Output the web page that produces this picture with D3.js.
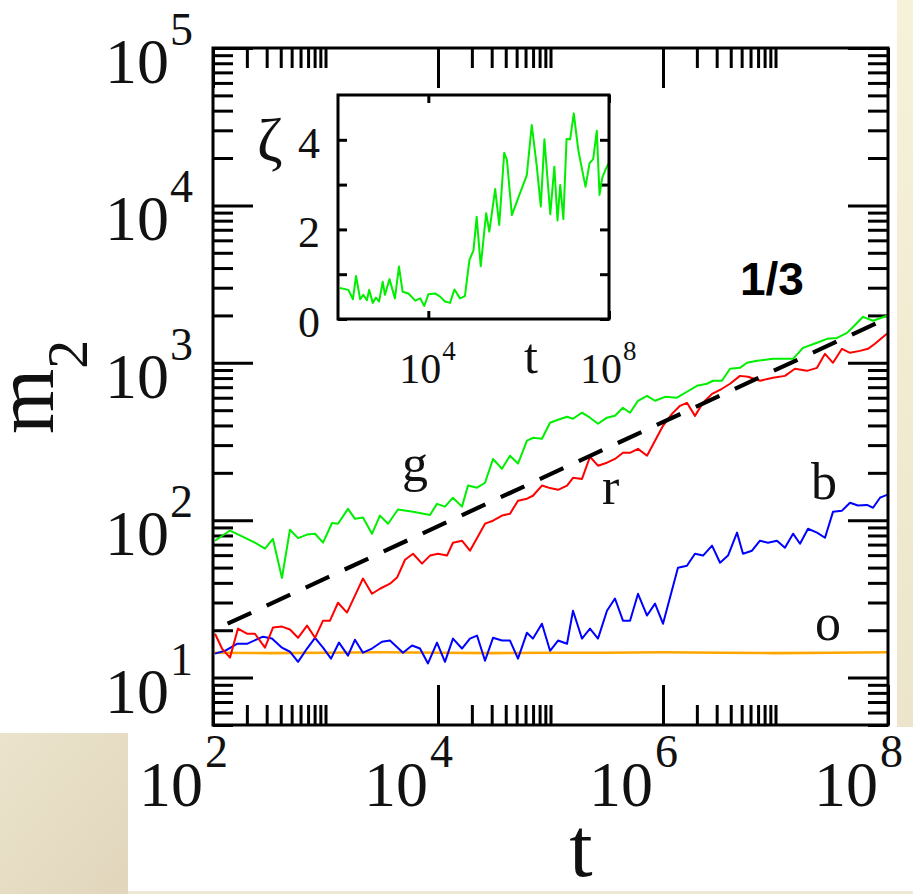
<!DOCTYPE html>
<html>
<head>
<meta charset="utf-8">
<script src="https://cdn.jsdelivr.net/npm/d3@7"></script>
<style>
  body { margin: 0; background: #ffffff; }
  svg { display: block; }
</style>
</head>
<body>
<svg id="chart" width="913" height="894"></svg>
<script>
// ---- m2(t) series: log10(t) sample points and m2 values ----
const greenLogT = [2.018,2.151,2.240,2.373,2.462,2.533,2.613,2.684,2.756,2.836,2.907,2.978,3.058,3.111,3.200,3.262,3.333,3.413,3.484,3.556,3.644,3.778,3.929,3.991,4.062,4.133,4.213,4.267,4.347,4.418,4.489,4.569,4.640,4.711,4.791,4.844,4.924,4.996,5.067,5.147,5.200,5.280,5.351,5.422,5.502,5.573,5.644,5.707,5.778,5.858,5.929,6.018,6.124,6.213,6.302,6.391,6.444,6.524,6.596,6.684,6.747,6.836,6.978,7.156,7.244,7.369,7.458,7.547,7.636,7.707,7.778,7.867,7.991];
const greenM2 = [74,86,80,72,66,76,43,87,77,81,82,72,96,95,118,102,104,82,107,95,117,113,108,127,122,139,122,166,161,173,245,212,257,229,320,334,329,416,435,454,441,482,448,410,448,461,518,482,574,617,574,608,600,655,714,736,769,769,916,929,1000,1030,1060,1060,1245,1340,1420,1440,1550,1740,1960,1850,1990];

const redLogT = [2.018,2.080,2.151,2.222,2.302,2.373,2.462,2.533,2.613,2.684,2.756,2.836,2.907,2.978,3.040,3.111,3.191,3.262,3.333,3.413,3.484,3.573,3.636,3.707,3.778,3.858,3.929,4.000,4.080,4.133,4.213,4.284,4.418,4.489,4.569,4.640,4.711,4.791,4.844,4.924,4.996,5.067,5.147,5.200,5.280,5.351,5.422,5.502,5.573,5.644,5.707,5.778,5.858,5.929,6.000,6.080,6.151,6.213,6.284,6.356,6.436,6.524,6.596,6.684,6.756,6.862,6.978,7.084,7.173,7.280,7.369,7.440,7.511,7.591,7.662,7.751,7.822,7.884,7.947,7.991];
const redM2 = [19.0,15.3,13.4,20.5,19.0,19.0,15.5,20.8,21.1,20.2,17.9,21.4,17.9,23.0,23.0,29.9,25.9,33.2,42.6,34.1,36.7,39.5,43.2,56.1,61.2,53.0,59.6,61.2,59.6,71.9,74.1,64.0,95.1,99.3,107,110,133,137,143,166,160,156,166,186,183,253,222,232,245,268,268,284,257,320,398,474,533,557,460,557,635,684,736,826,815,769,803,826,916,889,929,1140,1000,1227,1157,1191,1227,1321,1442,1528];

const blueLogT = [2.018,2.107,2.213,2.302,2.444,2.524,2.613,2.684,2.756,2.836,2.907,2.978,3.049,3.120,3.200,3.262,3.333,3.413,3.502,3.573,3.689,3.769,3.840,3.911,3.991,4.062,4.133,4.213,4.284,4.347,4.418,4.489,4.569,4.640,4.711,4.791,4.844,4.924,4.996,5.067,5.147,5.200,5.280,5.351,5.422,5.502,5.573,5.644,5.707,5.778,5.858,5.929,6.000,6.133,6.213,6.284,6.356,6.436,6.507,6.578,6.658,6.711,6.791,6.862,6.933,7.013,7.084,7.156,7.218,7.289,7.369,7.440,7.511,7.591,7.662,7.733,7.813,7.867,7.929,7.991];
const blueM2 = [14.2,14.8,16.4,16.4,18.2,17.7,15.5,14.6,12.6,15.3,17.9,15.5,13.2,16.7,13.8,17.4,14.4,15.3,16.9,17.2,14.4,16.0,15.3,12.3,16.7,12.6,17.7,15.3,17.7,18.5,12.8,17.9,17.2,17.2,13.2,19.3,17.7,22.0,14.8,17.2,16.4,26.6,17.7,20.5,17.7,26.6,31.8,23.0,23.0,34.1,24.8,29.5,22.0,49.9,51.4,61.2,59.6,68.9,53.7,59.6,83.4,61.2,64.0,74.1,71.9,74.1,66.8,82.1,70.9,88.3,83.4,77.4,113,115,129,124,125,120,139,145];

const orangeLogT = [2.0,2.5,3.0,3.5,4.0,4.5,5.0,5.5,6.0,6.5,7.0,7.5,8.0];
const orangeM2 = [14.4,14.3,14.4,14.5,14.4,14.3,14.4,14.4,14.5,14.4,14.3,14.4,14.5];

// t^(1/3) guide line end points
const guideLogT = [2.13, 8.0];
const guideM2 = [22, 1930];

// ---- inset: zeta(t) ----
const zetaLogT = [2.04,2.23,2.33,2.40,2.49,2.56,2.64,2.69,2.77,2.84,2.91,2.99,3.04,3.14,3.26,3.35,3.43,3.56,3.71,3.82,3.91,4.00,4.15,4.26,4.37,4.48,4.58,4.70,4.81,4.91,5.00,5.07,5.16,5.28,5.35,5.48,5.57,5.68,5.74,5.85,6.03,6.18,6.29,6.40,6.49,6.57,6.70,6.79,6.86,6.92,6.99,7.06,7.14,7.22,7.32,7.48,7.57,7.65,7.73,7.79,7.85,7.92,7.99];
const zetaVals = [0.69,0.65,0.44,0.96,0.44,0.54,0.42,0.65,0.36,0.48,0.39,0.83,0.54,0.89,0.46,1.17,0.61,0.57,0.41,0.46,0.29,0.55,0.57,0.50,0.39,0.36,0.66,0.46,0.51,1.32,1.53,2.28,1.18,2.36,1.95,2.90,2.10,3.71,3.55,2.32,2.81,3.21,4.33,3.42,2.51,4.01,2.34,3.40,2.20,2.99,2.23,4.02,4.01,4.59,3.77,2.95,3.48,3.57,4.20,2.77,3.15,3.33,3.48];

// ---- axis ticks and labels ----
const xMajorExp = [2, 4, 6, 8];
const xMinorDecades = [2, 4, 6];
const yMajorExp = [1, 2, 3, 4, 5];
const yMinorDecades = [0, 1, 2, 3, 4];
const minorMult = [2, 3, 4, 5, 6, 7, 8, 9];
const insetXExp = [4, 8];
const insetYTicks = [0, 1, 2, 3, 4];
const insetYLabels = [0, 2, 4];

const curveNames = ["g", "r", "b", "o"];
const slopeText = "1/3";

const svg = d3.select("#chart");
const serif = "'Liberation Serif', 'Times New Roman', serif";

// ---- page backdrop ----
const defs = svg.append("defs");
const gRight = defs.append("linearGradient").attr("id", "bgRight").attr("x1", 0).attr("y1", 0).attr("x2", 0).attr("y2", 1);
gRight.append("stop").attr("offset", "0%").attr("stop-color", "#f6f2d9");
gRight.append("stop").attr("offset", "100%").attr("stop-color", "#ece5cc");
const gLeft = defs.append("linearGradient").attr("id", "bgLeft").attr("x1", 0).attr("y1", 0).attr("x2", 1).attr("y2", 1);
gLeft.append("stop").attr("offset", "0%").attr("stop-color", "#ebe3cc");
gLeft.append("stop").attr("offset", "100%").attr("stop-color", "#e1d6bc");

svg.append("rect").attr("x", 0).attr("y", 0).attr("width", 913).attr("height", 894).attr("fill", "#ffffff");
svg.append("rect").attr("x", 897).attr("y", 0).attr("width", 16).attr("height", 727).attr("fill", "url(#bgRight)");
svg.append("rect").attr("x", 0).attr("y", 733).attr("width", 128).attr("height", 161).attr("fill", "url(#bgLeft)");
svg.append("rect").attr("x", 128).attr("y", 891).attr("width", 785).attr("height", 3).attr("fill", "#eee8d6");

// ---- main panel ----
const M = { left: 213, right: 888, top: 48, bottom: 725 };
const x = d3.scaleLog().domain([1e2, 1e8]).range([M.left, M.right]);
const y = d3.scaleLog().domain([5, 1e5]).range([M.bottom, M.top]);

defs.append("clipPath").attr("id", "clipMain")
  .append("rect").attr("x", M.left).attr("y", M.top)
  .attr("width", M.right - M.left).attr("height", M.bottom - M.top);

const xMinor = [];
xMinorDecades.forEach(d => minorMult.concat([10]).forEach(k => xMinor.push(k * Math.pow(10, d))));
const xMajor = xMajorExp.map(e => Math.pow(10, e));
const yMinor = [];
yMinorDecades.forEach(d => minorMult.forEach(k => {
  const v = k * Math.pow(10, d);
  if (v >= 5 && v <= 1e5) yMinor.push(v);
}));
const yMajor = yMajorExp.map(e => Math.pow(10, e));

function tickLayer(axisGen, transform) {
  const g = svg.append("g").attr("transform", transform).call(axisGen);
  g.select(".domain").remove();
  g.selectAll(".tick line").attr("stroke", "#000").attr("stroke-width", 3);
  g.selectAll(".tick text").remove();
  return g;
}
const majorLen = 40, minorLen = 20;
tickLayer(d3.axisBottom(x).tickValues(xMinor).tickSize(-minorLen).tickSizeOuter(0), `translate(0,${M.bottom})`);
tickLayer(d3.axisBottom(x).tickValues(xMajor).tickSize(-majorLen).tickSizeOuter(0), `translate(0,${M.bottom})`);
tickLayer(d3.axisTop(x).tickValues(xMinor).tickSize(-minorLen).tickSizeOuter(0), `translate(0,${M.top})`);
tickLayer(d3.axisTop(x).tickValues(xMajor).tickSize(-majorLen).tickSizeOuter(0), `translate(0,${M.top})`);
tickLayer(d3.axisLeft(y).tickValues(yMinor).tickSize(-minorLen).tickSizeOuter(0), `translate(${M.left},0)`);
tickLayer(d3.axisLeft(y).tickValues(yMajor).tickSize(-majorLen).tickSizeOuter(0), `translate(${M.left},0)`);
tickLayer(d3.axisRight(y).tickValues(yMinor).tickSize(-minorLen).tickSizeOuter(0), `translate(${M.right},0)`);
tickLayer(d3.axisRight(y).tickValues(yMajor).tickSize(-majorLen).tickSizeOuter(0), `translate(${M.right},0)`);

// data lines
const plot = svg.append("g").attr("clip-path", "url(#clipMain)");
const line = d3.line().x(d => x(Math.pow(10, d[0]))).y(d => y(d[1]));
const series = [
  { t: orangeLogT, v: orangeM2, color: "#ffa500", w: 2.6 },
  { t: blueLogT, v: blueM2, color: "#0000ff", w: 2 },
  { t: redLogT, v: redM2, color: "#ff0000", w: 2 },
  { t: greenLogT, v: greenM2, color: "#00ee00", w: 2 }
];
series.forEach(s => {
  plot.append("path")
    .datum(d3.zip(s.t, s.v))
    .attr("d", line)
    .attr("fill", "none")
    .attr("stroke", s.color)
    .attr("stroke-width", s.w)
    .attr("stroke-linejoin", "round");
});
plot.append("path")
  .datum(d3.zip(guideLogT, guideM2))
  .attr("d", line)
  .attr("fill", "none")
  .attr("stroke", "#000")
  .attr("stroke-width", 4.2)
  .attr("stroke-dasharray", "26 17");

// frame
svg.append("rect").attr("x", M.left).attr("y", M.top)
  .attr("width", M.right - M.left).attr("height", M.bottom - M.top)
  .attr("fill", "none").attr("stroke", "#000").attr("stroke-width", 3);

// x tick labels: 10 with superscript exponent
xMajorExp.forEach(e => {
  const px = x(Math.pow(10, e));
  svg.append("text").attr("x", px - 10).attr("y", 806)
    .attr("text-anchor", "end").attr("font-family", serif).attr("font-size", 64)
    .attr("fill", "#111").text("10");
  svg.append("text").attr("x", px - 8).attr("y", 767)
    .attr("font-family", serif).attr("font-size", 46).attr("fill", "#111").text(String(e));
});
// y tick labels
yMajorExp.forEach(e => {
  const py = y(Math.pow(10, e));
  svg.append("text").attr("x", 169).attr("y", py + 35)
    .attr("text-anchor", "end").attr("font-family", serif).attr("font-size", 64)
    .attr("fill", "#111").text("10");
  svg.append("text").attr("x", 170).attr("y", py - 3)
    .attr("font-family", serif).attr("font-size", 46).attr("fill", "#111").text(String(e));
});

// axis titles
svg.append("text").attr("x", 581).attr("y", 876).attr("text-anchor", "middle")
  .attr("font-family", serif).attr("font-size", 84).attr("fill", "#111").text("t");
const yTitle = svg.append("text").attr("transform", "translate(53,434) rotate(-90)")
  .attr("font-family", serif).attr("font-size", 84).attr("fill", "#111");
yTitle.append("tspan").text("m");
yTitle.append("tspan").attr("dy", 34).attr("font-size", 58).text("2");

// curve labels
const labelSpots = [[402, 481], [602, 504], [811, 499], [815, 640]];
curveNames.forEach((n, i) => {
  svg.append("text").attr("x", labelSpots[i][0]).attr("y", labelSpots[i][1])
    .attr("font-family", serif).attr("font-size", 52).attr("fill", "#111").text(n);
});
svg.append("text").attr("x", 740).attr("y", 295)
  .attr("font-family", "'Liberation Sans', Arial, sans-serif").attr("font-weight", "bold")
  .attr("font-size", 46).attr("fill", "#000").text(slopeText);

// ---- inset panel ----
const I = { left: 338, right: 609, top: 95, bottom: 319 };
const xi = d3.scaleLog().domain([1e2, 1e8]).range([I.left, I.right]);
const yi = d3.scaleLinear().domain([0, 5]).range([I.bottom, I.top]);

svg.append("rect").attr("x", I.left).attr("y", I.top)
  .attr("width", I.right - I.left).attr("height", I.bottom - I.top).attr("fill", "#fff");
defs.append("clipPath").attr("id", "clipInset")
  .append("rect").attr("x", I.left).attr("y", I.top)
  .attr("width", I.right - I.left).attr("height", I.bottom - I.top);

const insetX = insetXExp.map(e => Math.pow(10, e));
tickLayer(d3.axisBottom(xi).tickValues(insetX).tickSize(-8).tickSizeOuter(0), `translate(0,${I.bottom})`);
tickLayer(d3.axisTop(xi).tickValues(insetX).tickSize(-8).tickSizeOuter(0), `translate(0,${I.top})`);
tickLayer(d3.axisLeft(yi).tickValues(insetYTicks).tickSize(-9).tickSizeOuter(0), `translate(${I.left},0)`);
tickLayer(d3.axisRight(yi).tickValues(insetYTicks).tickSize(-9).tickSizeOuter(0), `translate(${I.right},0)`);

const lineI = d3.line().x(d => xi(Math.pow(10, d[0]))).y(d => yi(d[1]));
svg.append("g").attr("clip-path", "url(#clipInset)").append("path")
  .datum(d3.zip(zetaLogT, zetaVals))
  .attr("d", lineI).attr("fill", "none").attr("stroke", "#00ee00")
  .attr("stroke-width", 2).attr("stroke-linejoin", "round");

svg.append("rect").attr("x", I.left).attr("y", I.top)
  .attr("width", I.right - I.left).attr("height", I.bottom - I.top)
  .attr("fill", "none").attr("stroke", "#000").attr("stroke-width", 3);

insetYLabels.forEach(v => {
  svg.append("text").attr("x", 320).attr("y", yi(v) + 18).attr("text-anchor", "end")
    .attr("font-family", serif).attr("font-size", 44).attr("fill", "#111").text(String(v));
});
insetXExp.forEach(e => {
  const px = xi(Math.pow(10, e));
  svg.append("text").attr("x", px + 13).attr("y", 383).attr("text-anchor", "end")
    .attr("font-family", serif).attr("font-size", 42).attr("fill", "#111").text("10");
  svg.append("text").attr("x", px + 14).attr("y", 360)
    .attr("font-family", serif).attr("font-size", 27).attr("fill", "#111").text(String(e));
});
svg.append("text").attr("x", 531).attr("y", 373).attr("text-anchor", "middle")
  .attr("font-family", serif).attr("font-size", 50).attr("fill", "#111").text("t");
svg.append("text").attr("x", 257).attr("y", 161)
  .attr("font-family", serif).attr("font-size", 62).attr("fill", "#111").text("ζ");
</script>
</body>
</html>
